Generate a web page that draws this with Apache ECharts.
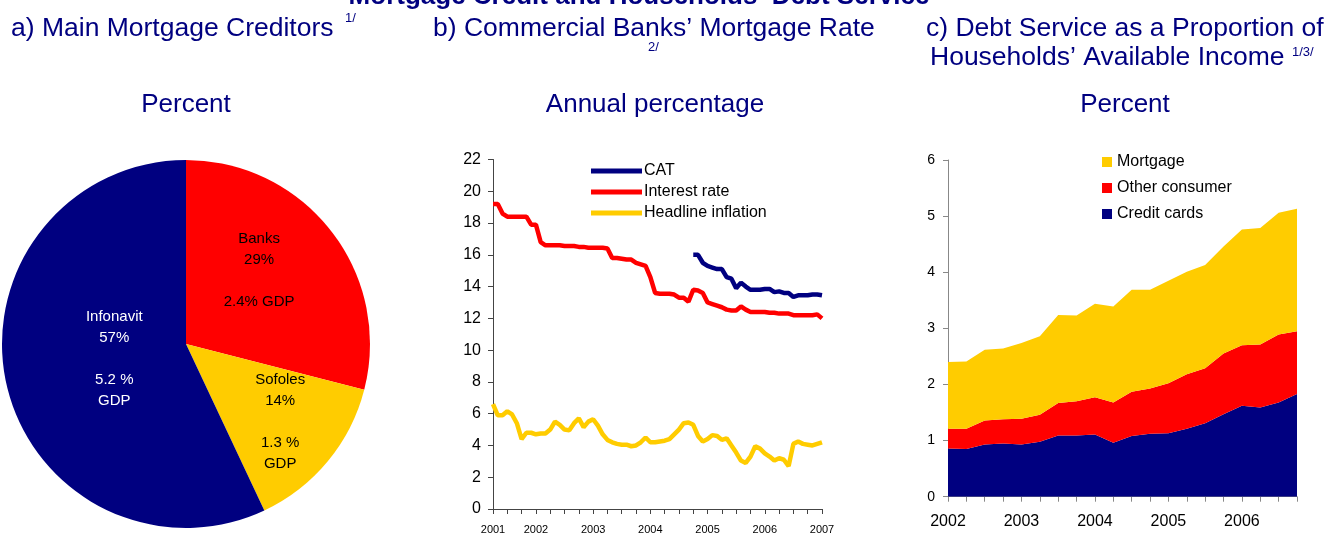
<!DOCTYPE html>
<html>
<head>
<meta charset="utf-8">
<script src="https://cdn.jsdelivr.net/npm/echarts@6/dist/echarts.min.js"></script>
<style>html,body{margin:0;padding:0;background:#fff}#c{width:1329px;height:535px}</style>
</head>
<body>
<div id="c"></div>
<script>
// ---------- Panel a: pie ----------
var pieNames = ['Banks', 'Sofoles', 'Infonavit'];
var pieShares = [29, 14, 57];
var pieGdp = ['2.4% GDP', '1.3 %\nGDP', '5.2 %\nGDP'];

// ---------- Panel b: monthly lines (Apr 2001 - Jan 2007) ----------
var monthCats = [
 '2001-04','2001-05','2001-06','2001-07','2001-08','2001-09','2001-10','2001-11','2001-12',
 '2002-01','2002-02','2002-03','2002-04','2002-05','2002-06','2002-07','2002-08','2002-09','2002-10','2002-11','2002-12',
 '2003-01','2003-02','2003-03','2003-04','2003-05','2003-06','2003-07','2003-08','2003-09','2003-10','2003-11','2003-12',
 '2004-01','2004-02','2004-03','2004-04','2004-05','2004-06','2004-07','2004-08','2004-09','2004-10','2004-11','2004-12',
 '2005-01','2005-02','2005-03','2005-04','2005-05','2005-06','2005-07','2005-08','2005-09','2005-10','2005-11','2005-12',
 '2006-01','2006-02','2006-03','2006-04','2006-05','2006-06','2006-07','2006-08','2006-09','2006-10','2006-11','2006-12',
 '2007-01'
];
var catRate = [
 '-','-','-','-','-','-','-','-','-','-','-','-','-','-','-','-','-','-','-','-','-',
 '-','-','-','-','-','-','-','-','-','-','-','-','-','-','-','-','-','-','-','-','-',
 16.0,16.0,15.5,15.3,15.2,15.1,15.1,14.6,14.5,13.9,14.25,14.0,13.8,13.8,13.8,13.85,13.85,13.65,
 13.7,13.6,13.6,13.35,13.45,13.45,13.45,13.5,13.5,13.45
];
var interestRate = [
 19.2,19.2,18.6,18.4,18.4,18.4,18.4,18.4,17.9,17.9,16.8,16.6,16.6,16.6,16.6,16.55,16.55,16.55,
 16.5,16.5,16.45,16.45,16.45,16.45,16.4,15.8,15.8,15.75,15.7,15.7,15.5,15.4,15.3,14.6,13.6,13.55,
 13.55,13.55,13.5,13.3,13.3,13.05,13.8,13.75,13.6,13.0,12.9,12.8,12.7,12.55,12.5,12.5,12.75,12.55,
 12.4,12.4,12.4,12.4,12.35,12.35,12.3,12.3,12.3,12.2,12.2,12.2,12.2,12.2,12.25,12.0
];
var headlineInflation = [
 6.6,5.9,5.9,6.15,5.95,5.4,4.4,4.8,4.8,4.7,4.75,4.75,5.0,5.5,5.3,5.0,4.95,5.4,5.7,5.15,5.5,5.65,
 5.25,4.7,4.35,4.2,4.1,4.05,4.05,3.95,4.0,4.2,4.5,4.2,4.2,4.25,4.3,4.4,4.7,5.0,5.4,5.45,5.3,4.6,
 4.25,4.4,4.65,4.6,4.35,4.45,4.0,3.55,3.05,2.9,3.3,3.95,3.8,3.5,3.3,3.05,3.2,3.1,2.7,4.1,4.25,
 4.1,4.05,4.0,4.1,4.2
];

// ---------- Panel c: quarterly stacked areas ----------
var quarterCats = [
 '2002Q1','2002Q2','2002Q3','2002Q4','2003Q1','2003Q2','2003Q3','2003Q4',
 '2004Q1','2004Q2','2004Q3','2004Q4','2005Q1','2005Q2','2005Q3','2005Q4',
 '2006Q1','2006Q2','2006Q3','2006Q4'
];
var creditCards = [0.86,0.85,0.93,0.95,0.93,0.98,1.09,1.09,1.11,0.96,1.08,1.12,1.13,1.21,1.31,1.47,1.62,1.59,1.68,1.83];
var otherConsumer = [0.35,0.36,0.43,0.43,0.46,0.48,0.58,0.61,0.66,0.72,0.79,0.81,0.89,0.97,0.98,1.08,1.08,1.12,1.21,1.12];
var mortgage = [1.19,1.20,1.26,1.26,1.35,1.40,1.57,1.53,1.67,1.71,1.82,1.76,1.83,1.83,1.84,1.91,2.06,2.08,2.17,2.18];

var NAVY = '#000080', RED = '#ff0000', YELLOW = '#ffcc00';
var FF = '"Liberation Sans", Arial, sans-serif';

var pieLabelColor = ['#000', '#000', '#fff'];
var pieLabelShift = [[-2, -15], [21, 17], [21, -6]];

function txt(text, x, y, size, align, bold) {
  return {
    type: 'text', x: x, y: y, silent: true,
    style: {
      text: text, fill: NAVY,
      font: (bold ? 'bold ' : '') + size + 'px ' + FF,
      textAlign: align, textVerticalAlign: 'middle',
      align: align, verticalAlign: 'middle'
    }
  };
}

var chart = echarts.init(document.getElementById('c'), null, {renderer: 'canvas'});
chart.setOption({
  animation: false,
  backgroundColor: '#fff',
  textStyle: {fontFamily: FF},
  graphic: [
    txt("Mortgage Credit and Households\u2019 Debt Service", 639, -3.5, 26, 'center', true),
    txt('a) Main Mortgage Creditors', 11, 29, 26.5, 'left'),
    txt('1/', 345, 18, 13, 'left'),
    txt('b) Commercial Banks\u2019 Mortgage Rate', 433, 29, 26.5, 'left'),
    txt('2/', 648, 47, 13, 'left'),
    txt('c) Debt Service as a Proportion of', 926, 29, 26.5, 'left'),
    txt('Households\u2019 Available Income', 930, 58, 26.5, 'left'),
    txt('1/3/', 1292, 52, 13, 'left'),
    txt('Percent', 186, 105, 26, 'center'),
    txt('Annual percentage', 655, 105, 26, 'center'),
    txt('Percent', 1125, 105, 26, 'center')
  ],
  legend: [
    {
      orient: 'vertical', left: 591, top: 163, itemGap: 5, padding: 0,
      icon: 'rect', itemWidth: 51, itemHeight: 5,
      textStyle: {fontSize: 16, color: '#000', fontFamily: FF, padding: [0, 0, 0, -3]},
      data: ['CAT', 'Interest rate', 'Headline inflation']
    },
    {
      orient: 'vertical', left: 1102, top: 154, itemGap: 10, padding: 0,
      icon: 'rect', itemWidth: 10, itemHeight: 10,
      textStyle: {fontSize: 16, color: '#000', fontFamily: FF},
      data: ['Mortgage', 'Other consumer', 'Credit cards']
    }
  ],
  grid: [
    {left: 493, top: 159.5, width: 329, height: 349.5},
    {left: 948, top: 160, width: 349, height: 336.7}
  ],
  xAxis: [
    {
      gridIndex: 0, type: 'category', data: monthCats, boundaryGap: false,
      axisLine: {lineStyle: {color: '#444', width: 1}},
      axisTick: {length: 5, lineStyle: {color: '#444'}, interval: function (i) { return i % 3 === 0; }},
      axisLabel: {
        fontSize: 11, color: '#000', margin: 15, fontFamily: FF,
        interval: function (i, v) { return i === 0 || v.slice(5) === '01'; },
        formatter: function (v) { return v.slice(0, 4); }
      },
      splitLine: {show: false}
    },
    {
      gridIndex: 1, type: 'category', data: quarterCats, boundaryGap: false,
      axisLine: {lineStyle: {color: '#888', width: 1}},
      axisTick: {length: 5, lineStyle: {color: '#888'}, interval: 0},
      axisLabel: {
        fontSize: 16, color: '#000', margin: 17, fontFamily: FF,
        interval: function (i, v) { return v.slice(4) === 'Q1'; },
        formatter: function (v) { return v.slice(0, 4); }
      },
      splitLine: {show: false}
    }
  ],
  yAxis: [
    {
      gridIndex: 0, type: 'value', min: 0, max: 22, interval: 2,
      axisLine: {show: true, lineStyle: {color: '#444', width: 1}},
      axisTick: {show: true, length: 5, lineStyle: {color: '#444'}},
      axisLabel: {fontSize: 16, color: '#000', margin: 12, fontFamily: FF},
      splitLine: {show: false}
    },
    {
      gridIndex: 1, type: 'value', min: 0, max: 6, interval: 1,
      axisLine: {show: true, lineStyle: {color: '#888', width: 1}},
      axisTick: {show: true, length: 5, lineStyle: {color: '#888'}},
      axisLabel: {fontSize: 14, color: '#000', margin: 13, fontFamily: FF},
      splitLine: {show: false}
    }
  ],
  series: [
    {
      type: 'pie', center: [186, 344], radius: 184, startAngle: 90, clockwise: true,
      silent: true,
      itemStyle: {borderWidth: 0},
      label: {
        show: true, position: 'inside', fontSize: 15, lineHeight: 21, align: 'center',
        fontFamily: FF,
        formatter: function (p) {
          return pieNames[p.dataIndex] + '\n' + pieShares[p.dataIndex] + '%\n\n' + pieGdp[p.dataIndex];
        }
      },
      labelLine: {show: false},
      labelLayout: function (p) {
        return {dx: pieLabelShift[p.dataIndex][0], dy: pieLabelShift[p.dataIndex][1]};
      },
      data: pieNames.map(function (n, i) {
        return {
          name: n, value: pieShares[i],
          itemStyle: {color: [RED, YELLOW, NAVY][i]},
          label: {color: pieLabelColor[i]}
        };
      })
    },
    {
      name: 'Headline inflation', type: 'line', xAxisIndex: 0, yAxisIndex: 0,
      data: headlineInflation, showSymbol: false, symbol: 'none',
      lineStyle: {color: YELLOW, width: 4.5}, itemStyle: {color: YELLOW}
    },
    {
      name: 'Interest rate', type: 'line', xAxisIndex: 0, yAxisIndex: 0,
      data: interestRate, showSymbol: false, symbol: 'none',
      lineStyle: {color: RED, width: 4.5}, itemStyle: {color: RED}
    },
    {
      name: 'CAT', type: 'line', xAxisIndex: 0, yAxisIndex: 0,
      data: catRate, showSymbol: false, symbol: 'none', connectNulls: false,
      lineStyle: {color: NAVY, width: 4.5}, itemStyle: {color: NAVY}
    },
    {
      name: 'Credit cards', type: 'line', xAxisIndex: 1, yAxisIndex: 1, stack: 'ds',
      data: creditCards, showSymbol: false, symbol: 'none',
      lineStyle: {width: 0}, areaStyle: {color: NAVY, opacity: 1}, itemStyle: {color: NAVY}
    },
    {
      name: 'Other consumer', type: 'line', xAxisIndex: 1, yAxisIndex: 1, stack: 'ds',
      data: otherConsumer, showSymbol: false, symbol: 'none',
      lineStyle: {width: 0}, areaStyle: {color: RED, opacity: 1}, itemStyle: {color: RED}
    },
    {
      name: 'Mortgage', type: 'line', xAxisIndex: 1, yAxisIndex: 1, stack: 'ds',
      data: mortgage, showSymbol: false, symbol: 'none',
      lineStyle: {width: 0}, areaStyle: {color: YELLOW, opacity: 1}, itemStyle: {color: YELLOW}
    }
  ]
});
</script>
</body>
</html>
